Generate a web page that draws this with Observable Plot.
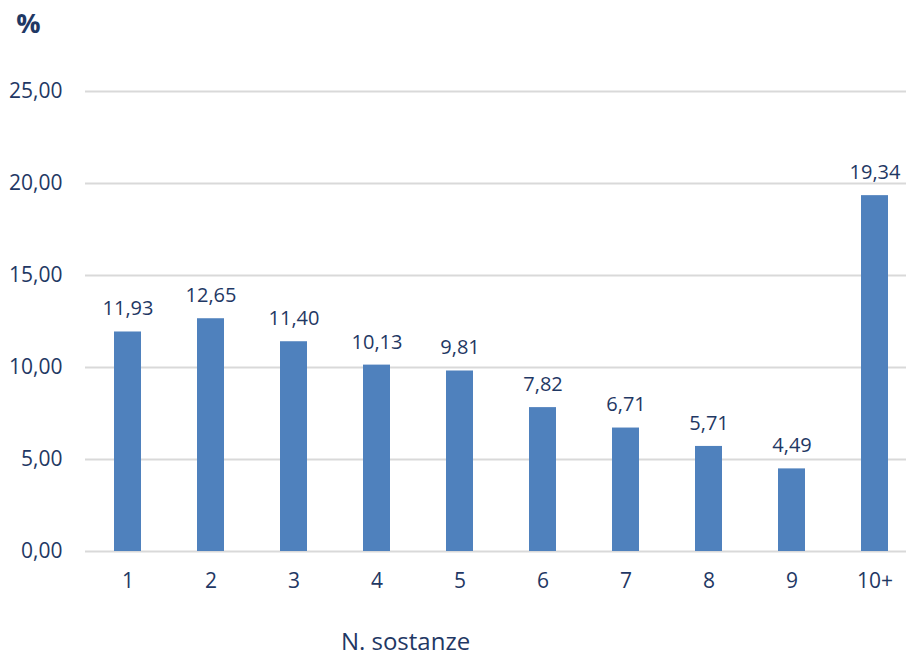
<!DOCTYPE html>
<html>
<head>
<meta charset="utf-8">
<script src="https://cdn.jsdelivr.net/npm/d3@7"></script>
<script src="https://cdn.jsdelivr.net/npm/@observablehq/plot@0.6"></script>
<style>
  html, body { margin: 0; padding: 0; background: white; }
</style>
</head>
<body>
<div id="chart"></div>
<script>
const categories = ["1", "2", "3", "4", "5", "6", "7", "8", "9", "10+"];
const values = [11.93, 12.65, 11.40, 10.13, 9.81, 7.82, 6.71, 5.71, 4.49, 19.34];
const yTicks = [0, 5, 10, 15, 20, 25];
const yLabel = "%";
const xLabel = "N. sostanze";

const data = categories.map((c, i) => ({cat: c, val: values[i]}));
const it = d3.formatLocale({decimal: ",", thousands: ".", grouping: [3], currency: ["", " €"]});
const fmt = it.format(".2f");

const navy = "#1f3864";

const chart = Plot.plot({
  width: 906,
  height: 656,
  marginLeft: 85,
  marginRight: 0,
  marginTop: 91,
  marginBottom: 105,
  style: {fontFamily: "'Open Sans', sans-serif", fontSize: "21px", color: navy, background: "white", overflow: "visible"},
  x: {domain: categories, range: [85, 917], paddingInner: 0.675, paddingOuter: 0.3375, label: null},
  y: {domain: [0, 25], label: null},
  marks: [
    Plot.ruleY(yTicks, {stroke: "#d9d9d9", strokeWidth: 2}),
    Plot.barY(data, {x: "cat", y: "val", fill: "#4f81bd"}),
    Plot.text(data, {x: "cat", y: "val", text: d => fmt(d.val), dy: -23, fontSize: 20, fill: navy}),
    Plot.axisY({ticks: yTicks, tickFormat: fmt, tickSize: 0, tickPadding: 23, label: null, fill: navy}),
    Plot.axisX({tickSize: 0, tickPadding: 22, label: null, fill: navy}),
    Plot.text([yLabel], {frameAnchor: "top-left", textAnchor: "middle", lineAnchor: "middle", dx: -57, dy: -67, fontWeight: "bold", fontSize: 27, fill: navy}),
    Plot.text([xLabel], {frameAnchor: "bottom-left", textAnchor: "middle", lineAnchor: "middle", dx: 320, dy: 91, fontSize: 24, fill: navy})
  ]
});
document.getElementById("chart").appendChild(chart);
</script>
</body>
</html>
